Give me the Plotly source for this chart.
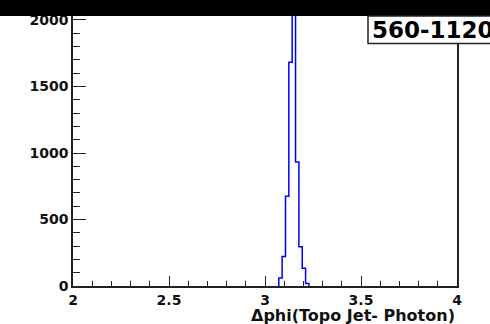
import plotly.graph_objects as go

# Histogram data: bin edges (radians, 1-degree bins) and counts
bin_edges = [3.0718, 3.0892, 3.1067, 3.1241, 3.1416, 3.1590, 3.1765, 3.1940, 3.2114, 3.2289]
counts = [60, 222, 674, 1682, 2700, 933, 296, 133, 18]
x_ticks = [2, 2.5, 3, 3.5, 4]
x_tick_labels = ["2", "2.5", "3", "3.5", "4"]
y_ticks = [0, 500, 1000, 1500, 2000]
y_tick_labels = ["0", "500", "1000", "1500", "2000"]
title_text = "560-1120"
x_title = "Δphi(Topo Jet- Photon)"

# step outline
xs = [bin_edges[0]]
ys = [0]
for i, c in enumerate(counts):
    xs.append(bin_edges[i])
    ys.append(c)
xs.append(bin_edges[-1])
ys.append(0)

FONT = "DejaVu Sans"

fig = go.Figure()
fig.add_trace(go.Scatter(
    x=xs, y=ys, mode="lines", line=dict(color="#0000ff", width=1.5, shape="hv"),
    hoverinfo="skip", showlegend=False,
))

axis_common = dict(
    showgrid=False, zeroline=False, showline=True, linecolor="#222222", linewidth=1.5,
    mirror=True, ticks="inside", tickcolor="#222222", tickwidth=1.2,
    tickfont=dict(family=FONT, size=14, color="#111111", weight="bold"),
)

fig.update_layout(
    width=490, height=324,
    margin=dict(l=73, r=33, t=12, b=38),
    paper_bgcolor="white", plot_bgcolor="white",
    xaxis=dict(range=[2, 4], tickvals=x_ticks, ticktext=x_tick_labels, ticklen=10,
               minor=dict(dtick=0.1, ticklen=5, ticks="inside", tickcolor="#222222", tickwidth=1.2),
               **axis_common),
    yaxis=dict(range=[0, 2030], tickvals=y_ticks, ticktext=y_tick_labels, ticklen=13,
               minor=dict(dtick=100, ticklen=7, ticks="inside", tickcolor="#222222", tickwidth=1.2),
               **axis_common),
)

# black bar at the top
fig.add_shape(type="rect", xref="paper", yref="paper", x0=-0.5, x1=1.5, y0=1.0, y1=1.2,
              fillcolor="black", line=dict(width=0), layer="above")
# title box
fig.add_shape(type="rect", xref="paper", yref="paper",
              x0=(368 - 73) / 384, x1=1.5, y0=1 - 28 / 274, y1=1.0,
              fillcolor="white", line=dict(color="#222222", width=1.5), layer="above")
fig.add_annotation(text=title_text, xref="paper", yref="paper",
                   x=(370 - 73) / 384, y=1 - 14 / 274, xanchor="left", yanchor="middle",
                   showarrow=False, font=dict(family=FONT, size=23, color="black", weight="bold"))
# x axis title
fig.add_annotation(text=x_title, xref="paper", yref="paper",
                   x=1.0, y=-30 / 274, xanchor="right", yanchor="middle",
                   showarrow=False, font=dict(family=FONT, size=16, color="#111111", weight="bold"))

fig.write_html("out.html", config={"displayModeBar": False},
               post_script="document.body.style.margin='0';document.body.style.overflow='hidden';")
